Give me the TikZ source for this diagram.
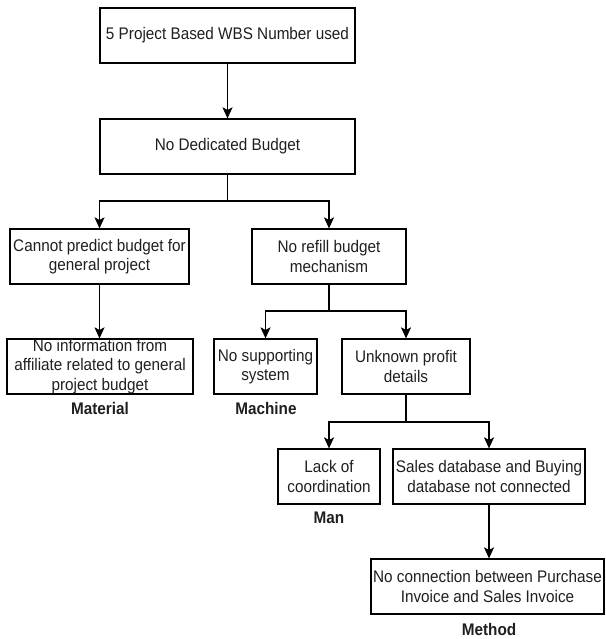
\documentclass[tikz,border=0pt]{standalone}
\usepackage{fontspec}
\setmainfont{Liberation Sans}[FakeStretch=0.91]
\usetikzlibrary{arrows.meta}
\begin{document}
\begin{tikzpicture}[x=1pt,y=-1pt,
  box/.style={draw=black, line width=1.2pt, rectangle, inner sep=0pt,
    minimum height=55pt, align=center, text=black!88,
    font={\fontsize{16.8pt}{19.3pt}\selectfont}},
  tag/.style={inner sep=0pt, text=black!88,
    font={\fontsize{16.8pt}{19.3pt}\selectfont\bfseries}},
  link/.style={draw=black, line width=1.2pt},
  arr/.style={link, -{Stealth[length=11pt, width=10pt, inset=2.5pt]}}]
\useasboundingbox (0,0) rectangle (605,639);

% cause boxes
\node[box, minimum width=255pt] (b1) at (227.5,35.5) {5 Project Based WBS Number used};
\node[box, minimum width=255pt] (b2) at (227.5,146.5) {No Dedicated Budget};
\node[box, minimum width=179pt] (b3) at (99.5,256.5) {Cannot predict budget for\\general project};
\node[box, minimum width=154pt] (b4) at (329,256.5) {No refill budget\\mechanism};
\node[box, minimum width=186pt] (b5) at (100,366.5) {No information from\\affiliate related to general\\project budget};
\node[box, minimum width=103pt] (b6) at (265.5,366.5) {No supporting\\system};
\node[box, minimum width=128pt] (b7) at (406,366.5) {Unknown profit\\details};
\node[box, minimum width=102pt] (b8) at (329,476.5) {Lack of\\coordination};
\node[box, minimum width=192pt] (b9) at (489,476.5) {Sales database and Buying\\database not connected};
\node[box, minimum width=233pt] (b10) at (487.5,586.5) {No connection between Purchase\\Invoice and Sales Invoice};

% category labels
\node[tag] (mat) at (100,408) {Material};
\node[tag] (mach) at (266,408) {Machine};
\node[tag] (man) at (329,518) {Man};
\node[tag] (meth) at (489,629) {Method};

% branch points
\coordinate (j1) at (227.5,201);
\coordinate (j2) at (329,311);
\coordinate (j3) at (406,422);

% connectors
\draw[arr] (b1.south) -- (b2.north);
\draw[link] (b2.south) -- (j1);
\draw[arr] (j1) -| (b3.north);
\draw[arr] (j1) -| (b4.north);
\draw[arr] (b3.south) -- (b3.south |- b5.north);
\draw[link] (b4.south) -- (j2);
\draw[arr] (j2) -| (b6.north);
\draw[arr] (j2) -| (b7.north);
\draw[link] (b7.south) -- (j3);
\draw[arr] (j3) -| (b8.north);
\draw[arr] (j3) -| (b9.north);
\draw[arr] (b9.south) -- (b9.south |- b10.north);
\end{tikzpicture}
\end{document}
